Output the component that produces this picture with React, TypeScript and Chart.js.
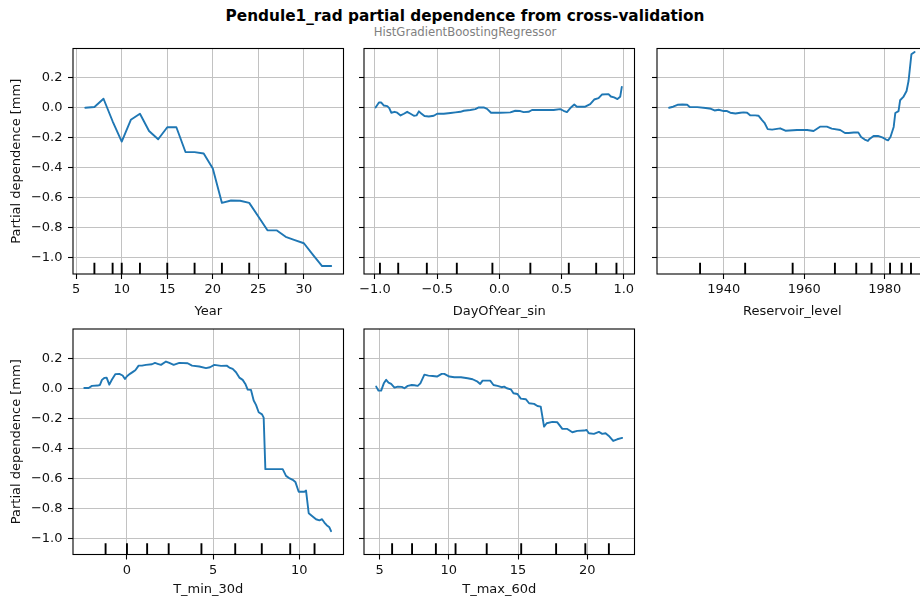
import React, { useEffect, useRef } from "react";
import { Chart, registerables } from "chart.js";

Chart.register(...registerables);

// ---------------- data ----------------
const TITLE = "Pendule1_rad partial dependence from cross-validation";
const SUBTITLE = "HistGradientBoostingRegressor";
const Y_LABEL = "Partial dependence [mm]";

const Y_MIN = -1.108;
const Y_MAX = 0.395;
const Y_TICKS = [-1.0, -0.8, -0.6, -0.4, -0.2, 0.0, 0.2];
const Y_TICK_LABELS = ["−1.0", "−0.8", "−0.6", "−0.4", "−0.2", "0.0", "0.2"];

// Year
const YEAR_X = [6, 7, 8, 9, 10, 11, 12, 13, 14, 15, 16, 17, 18, 19, 20, 21, 22, 23, 24, 25, 26, 27, 28, 29, 30, 31, 32, 33];
const YEAR_PD = [0.0, 0.005, 0.06, -0.09, -0.225, -0.08, -0.04, -0.155, -0.21, -0.13, -0.13, -0.295, -0.296, -0.305, -0.405, -0.634, -0.618, -0.62, -0.634, -0.725, -0.817, -0.817, -0.86, -0.882, -0.903, -0.98, -1.055, -1.055];
const YEAR_DECILES = [7, 9, 10, 12, 15, 18, 21, 24, 28];
const YEAR_RANGE = [4.65, 34.35];
const YEAR_TICKS = [5, 10, 15, 20, 25, 30];
const YEAR_TICK_LABELS = ["5", "10", "15", "20", "25", "30"];

// DayOfYear_sin
const DAY_X = [-0.995, -0.968, -0.949, -0.928, -0.901, -0.885, -0.869, -0.842, -0.821, -0.794, -0.767, -0.741, -0.714, -0.687, -0.666, -0.647, -0.628, -0.602, -0.567, -0.527, -0.5, -0.447, -0.393, -0.353, -0.313, -0.286, -0.233, -0.193, -0.166, -0.126, -0.099, -0.067, 0.008, 0.088, 0.128, 0.168, 0.195, 0.235, 0.262, 0.356, 0.436, 0.489, 0.516, 0.543, 0.575, 0.602, 0.623, 0.69, 0.73, 0.762, 0.797, 0.824, 0.877, 0.896, 0.922, 0.949, 0.971, 0.984];
const DAY_PD = [0.002, 0.035, 0.035, 0.015, 0.011, -0.002, -0.033, -0.027, -0.033, -0.051, -0.04, -0.027, -0.04, -0.053, -0.051, -0.024, -0.038, -0.055, -0.058, -0.053, -0.04, -0.04, -0.035, -0.031, -0.027, -0.02, -0.015, -0.009, 0.002, 0.002, -0.007, -0.033, -0.033, -0.031, -0.02, -0.022, -0.029, -0.027, -0.015, -0.015, -0.015, -0.009, -0.02, -0.029, 0.002, 0.022, 0.007, 0.007, 0.024, 0.055, 0.064, 0.088, 0.091, 0.075, 0.069, 0.058, 0.073, 0.139];
const DAY_DECILES = [-0.96, -0.813, -0.583, -0.342, -0.056, 0.249, 0.558, 0.778, 0.941];
const DAY_RANGE = [-1.088, 1.086];
const DAY_TICKS = [-1.0, -0.5, 0.0, 0.5, 1.0];
const DAY_TICK_LABELS = ["−1.0", "−0.5", "0.0", "0.5", "1.0"];

// Reservoir_level
const RES_X = [1926.4, 1927.4, 1928.5, 1929.7, 1930.9, 1931.6, 1933.4, 1935.5, 1936.8, 1937.7, 1938.7, 1940.0, 1940.8, 1941.6, 1942.9, 1944.1, 1944.9, 1945.8, 1946.6, 1947.8, 1948.6, 1949.5, 1950.1, 1950.9, 1952.0, 1954.0, 1955.3, 1958.2, 1960.7, 1962.3, 1963.9, 1965.6, 1966.8, 1968.9, 1970.1, 1971.0, 1972.3, 1973.4, 1974.1, 1975.0, 1975.8, 1976.2, 1977.2, 1978.3, 1979.5, 1980.2, 1980.8, 1981.4, 1982.2, 1982.6, 1983.4, 1983.8, 1984.6, 1985.4, 1985.9, 1986.6, 1987.4];
const RES_PD = [0.0, 0.007, 0.02, 0.022, 0.02, 0.004, 0.004, -0.002, -0.007, -0.018, -0.013, -0.022, -0.022, -0.033, -0.038, -0.033, -0.031, -0.033, -0.051, -0.051, -0.053, -0.082, -0.1, -0.142, -0.146, -0.137, -0.153, -0.148, -0.148, -0.155, -0.126, -0.126, -0.139, -0.148, -0.168, -0.168, -0.165, -0.164, -0.195, -0.212, -0.221, -0.208, -0.188, -0.188, -0.199, -0.21, -0.217, -0.195, -0.128, -0.035, -0.022, 0.05, 0.072, 0.112, 0.18, 0.356, 0.372];
const RES_DECILES = [1934.1, 1945.3, 1957.1, 1967.6, 1972.9, 1976.7, 1981.3, 1984.2, 1986.5];
const RES_RANGE = [1923.4, 1990.6];
const RES_TICKS = [1940, 1960, 1980];
const RES_TICK_LABELS = ["1940", "1960", "1980"];

// T_min_30d
const TMIN_X = [-2.476, -2.224, -2.031, -1.702, -1.567, -1.451, -1.315, -1.18, -1.025, -0.87, -0.677, -0.445, -0.251, -0.116, 0.0, 0.174, 0.368, 0.484, 0.677, 0.87, 1.103, 1.451, 1.625, 1.78, 1.973, 2.263, 2.456, 2.708, 3.037, 3.52, 3.772, 4.197, 4.584, 4.816, 5.068, 5.455, 5.783, 5.938, 6.132, 6.325, 6.518, 6.712, 6.867, 7.002, 7.195, 7.35, 7.485, 7.64, 7.834, 7.93, 8.027, 8.453, 9.033, 9.226, 9.381, 9.613, 9.768, 9.961, 10.29, 10.387, 10.542, 10.735, 10.967, 11.161, 11.315, 11.451, 11.586, 11.741, 11.838];
const TMIN_PD = [0.002, 0.002, 0.016, 0.018, 0.022, 0.056, 0.069, 0.071, 0.024, 0.058, 0.094, 0.096, 0.085, 0.062, 0.08, 0.096, 0.111, 0.12, 0.151, 0.151, 0.156, 0.16, 0.169, 0.163, 0.156, 0.178, 0.169, 0.156, 0.169, 0.167, 0.151, 0.145, 0.134, 0.14, 0.156, 0.149, 0.151, 0.138, 0.129, 0.107, 0.071, 0.056, 0.029, -0.009, -0.011, -0.082, -0.111, -0.16, -0.174, -0.196, -0.539, -0.539, -0.539, -0.584, -0.597, -0.61, -0.624, -0.69, -0.69, -0.682, -0.833, -0.851, -0.873, -0.88, -0.873, -0.895, -0.913, -0.927, -0.953];
const TMIN_DECILES = [-1.24, 0.0, 1.17, 2.42, 4.32, 6.28, 7.82, 9.47, 10.88];
const TMIN_RANGE = [-3.13, 12.56];
const TMIN_TICKS = [0, 5, 10];
const TMIN_TICK_LABELS = ["0", "5", "10"];

// T_max_60d
const TMAX_X = [4.76, 4.93, 5.12, 5.31, 5.48, 5.65, 5.84, 6.08, 6.32, 6.61, 6.8, 7.04, 7.33, 7.52, 7.76, 7.95, 8.24, 8.53, 8.84, 9.15, 9.49, 9.68, 10.04, 10.4, 10.88, 11.36, 11.72, 12.08, 12.27, 12.44, 12.8, 12.99, 13.23, 13.52, 13.81, 14.0, 14.19, 14.48, 14.67, 14.96, 15.2, 15.56, 15.8, 16.16, 16.4, 16.64, 16.88, 17.07, 17.48, 17.84, 18.2, 18.56, 18.92, 19.28, 19.76, 19.95, 20.12, 20.48, 20.84, 21.08, 21.32, 21.56, 21.87, 22.16, 22.52];
const TMAX_PD = [0.011, -0.016, -0.016, 0.033, 0.056, 0.038, 0.029, 0.004, 0.011, 0.009, 0.0, 0.016, 0.022, 0.02, 0.016, 0.033, 0.091, 0.084, 0.082, 0.078, 0.096, 0.096, 0.078, 0.073, 0.073, 0.067, 0.06, 0.044, 0.029, 0.051, 0.051, 0.051, 0.022, 0.016, 0.007, 0.011, 0.0, -0.007, -0.033, -0.038, -0.069, -0.073, -0.1, -0.104, -0.118, -0.122, -0.256, -0.233, -0.224, -0.227, -0.271, -0.271, -0.293, -0.284, -0.282, -0.278, -0.3, -0.304, -0.291, -0.304, -0.3, -0.318, -0.351, -0.34, -0.331];
const TMAX_DECILES = [5.91, 7.35, 9.07, 10.49, 12.74, 15.23, 17.75, 19.86, 21.56];
const TMAX_RANGE = [3.88, 23.41];
const TMAX_TICKS = [5, 10, 15, 20];
const TMAX_TICK_LABELS = ["5", "10", "15", "20"];

// ---------------- panels ----------------
type Spec = {
  label: string;
  xs: number[];
  ys: number[];
  deciles: number[];
  range: number[];
  ticks: number[];
  tickLabels: string[];
  col: number;
  row: number;
};

const SPECS: Spec[] = [
  { label: "Year", xs: YEAR_X, ys: YEAR_PD, deciles: YEAR_DECILES, range: YEAR_RANGE, ticks: YEAR_TICKS, tickLabels: YEAR_TICK_LABELS, col: 0, row: 0 },
  { label: "DayOfYear_sin", xs: DAY_X, ys: DAY_PD, deciles: DAY_DECILES, range: DAY_RANGE, ticks: DAY_TICKS, tickLabels: DAY_TICK_LABELS, col: 1, row: 0 },
  { label: "Reservoir_level", xs: RES_X, ys: RES_PD, deciles: RES_DECILES, range: RES_RANGE, ticks: RES_TICKS, tickLabels: RES_TICK_LABELS, col: 2, row: 0 },
  { label: "T_min_30d", xs: TMIN_X, ys: TMIN_PD, deciles: TMIN_DECILES, range: TMIN_RANGE, ticks: TMIN_TICKS, tickLabels: TMIN_TICK_LABELS, col: 0, row: 1 },
  { label: "T_max_60d", xs: TMAX_X, ys: TMAX_PD, deciles: TMAX_DECILES, range: TMAX_RANGE, ticks: TMAX_TICKS, tickLabels: TMAX_TICK_LABELS, col: 1, row: 1 },
];

// ---------------- layout ----------------
const FONT = "'DejaVu Sans', 'Liberation Sans', sans-serif";
const COL_LEFT = [73, 364, 657];
const PANEL_W = 270.5;
const PANEL_H = 225.5;
const LEFT_SPACE = 73;
const RIGHT_SPACE = 30.5;
const ROW_CANVAS_TOP = [36, 317];
const ROW_PAD_TOP = [12.5, 12];
const ROW_XAXIS_H = [52, 52.5];
const ROW_XTITLE_PAD = [6.4, 9.4];
const TEXT_COLOR = "#111111";
const GRID_COLOR = "#c2c2c2";

const framePlugin = {
  id: "frame",
  afterDraw(chart: any) {
    const { ctx, chartArea } = chart;
    const { left, top, right, bottom } = chartArea;
    ctx.save();
    ctx.strokeStyle = "#000000";
    ctx.lineWidth = 1.1;
    ctx.strokeRect(left, top, right - left, bottom - top);
    ctx.restore();
  },
};

function Panel({ spec }: { spec: Spec }) {
  const ref = useRef<HTMLCanvasElement | null>(null);
  const first = spec.col === 0;
  const yAxisW = first ? LEFT_SPACE : 6;
  const padLeft = LEFT_SPACE - yAxisW;
  const canvasLeft = COL_LEFT[spec.col] - LEFT_SPACE;
  const canvasTop = ROW_CANVAS_TOP[spec.row];
  const width = Math.round(LEFT_SPACE + PANEL_W + RIGHT_SPACE);
  const height = Math.round(ROW_PAD_TOP[spec.row] + PANEL_H + ROW_XAXIS_H[spec.row]);
  const padRight = width - LEFT_SPACE - PANEL_W;

  useEffect(() => {
    const canvas = ref.current;
    if (!canvas) return;
    const rugTop = Y_MIN + 0.05 * (Y_MAX - Y_MIN);
    const rug: any[] = [];
    spec.deciles.forEach((d) => {
      rug.push({ x: d, y: Y_MIN }, { x: d, y: rugTop }, { x: d, y: null });
    });
    const line = spec.xs.map((x, i) => ({ x, y: spec.ys[i] }));
    const tickFont = { family: FONT, size: 13 };

    const chart = new Chart(canvas, {
      type: "line",
      data: {
        datasets: [
          {
            data: line,
            borderColor: "#1f77b4",
            borderWidth: 1.9,
            pointRadius: 0,
            tension: 0,
            fill: false,
            borderJoinStyle: "round",
            borderCapStyle: "round",
          },
          {
            data: rug,
            borderColor: "#000000",
            borderWidth: 1.9,
            pointRadius: 0,
            tension: 0,
            fill: false,
            spanGaps: false,
          },
        ],
      } as any,
      options: {
        animation: false,
        responsive: false,
        devicePixelRatio: 1,
        events: [],
        layout: { padding: { left: padLeft, top: ROW_PAD_TOP[spec.row], right: padRight, bottom: 0 } },
        plugins: { legend: { display: false }, tooltip: { enabled: false }, title: { display: false } },
        scales: {
          x: {
            type: "linear",
            min: spec.range[0],
            max: spec.range[1],
            afterBuildTicks: (s: any) => {
              s.ticks = spec.ticks.map((v) => ({ value: v }));
            },
            afterFit: (s: any) => {
              s.height = ROW_XAXIS_H[spec.row];
              s.paddingLeft = 0;
              s.paddingRight = 0;
            },
            ticks: {
              autoSkip: false,
              maxRotation: 0,
              padding: 3,
              color: TEXT_COLOR,
              font: tickFont,
              callback: (_v: any, i: number) => spec.tickLabels[i],
            },
            grid: { color: GRID_COLOR, lineWidth: 1, drawTicks: true, tickLength: 5, tickColor: "#000000", tickWidth: 1.1 },
            border: { display: false },
            title: {
              display: true,
              text: spec.label,
              color: TEXT_COLOR,
              font: { family: FONT, size: 13 },
              padding: { top: 0, bottom: ROW_XTITLE_PAD[spec.row] },
            },
          },
          y: {
            type: "linear",
            min: Y_MIN,
            max: Y_MAX,
            afterBuildTicks: (s: any) => {
              s.ticks = Y_TICKS.map((v) => ({ value: v }));
            },
            afterFit: (s: any) => {
              s.width = yAxisW;
              s.paddingTop = 0;
              s.paddingBottom = 0;
            },
            ticks: {
              display: first,
              padding: 5.5,
              color: TEXT_COLOR,
              font: tickFont,
              callback: (_v: any, i: number) => Y_TICK_LABELS[i],
            },
            grid: { color: GRID_COLOR, lineWidth: 1, drawTicks: true, tickLength: 5, tickColor: "#000000", tickWidth: 1.1 },
            border: { display: false },
            title: {
              display: first,
              text: Y_LABEL,
              color: TEXT_COLOR,
              font: { family: FONT, size: 13 },
              padding: { top: 9.2, bottom: 0 },
            },
          },
        },
      } as any,
      plugins: [framePlugin],
    });
    return () => chart.destroy();
  }, []);

  return (
    <canvas
      ref={ref}
      width={width}
      height={height}
      style={{ position: "absolute", left: canvasLeft, top: canvasTop, width, height }}
    />
  );
}

export default function App() {
  return (
    <div
      style={{
        position: "fixed",
        left: 0,
        top: 0,
        width: 920,
        height: 599,
        overflow: "hidden",
        background: "#ffffff",
        fontFamily: FONT,
      }}
    >
      <div
        style={{
          position: "absolute",
          left: 0,
          width: 930,
          top: 7,
          textAlign: "center",
          fontWeight: "bold",
          fontSize: 15.3,
          lineHeight: "18px",
          color: "#000000",
          whiteSpace: "nowrap",
        }}
      >
        {TITLE}
      </div>
      <div
        style={{
          position: "absolute",
          left: 0,
          width: 930,
          top: 25,
          textAlign: "center",
          fontSize: 11.7,
          lineHeight: "14px",
          color: "#808080",
          whiteSpace: "nowrap",
        }}
      >
        {SUBTITLE}
      </div>
      {SPECS.map((s, i) => (
        <Panel key={i} spec={s} />
      ))}
    </div>
  );
}
